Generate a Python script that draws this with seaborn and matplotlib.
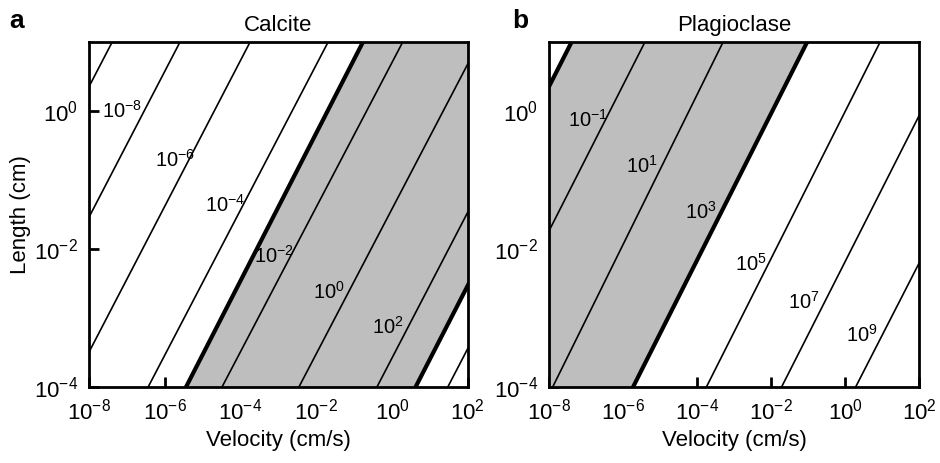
import numpy as np
import pandas as pd
import matplotlib
matplotlib.use("Agg")
import matplotlib.pyplot as plt
import seaborn as sns
from matplotlib.ticker import NullLocator

# contour lines: exponent of the number, log10 velocity where the line meets
# L = 1e-4 cm (bottom) and L = 1e1 cm (top)
calcite_levels = [-10, -8, -6, -4, -3, -2, 0, 2, 3, 4]
calcite_logv_bottom = [-12.12, -10.33, -8.48, -6.44, -5.44, -4.49, -2.46, -0.40, 0.62, 1.47]
calcite_logv_top = [-7.39, -5.60, -3.75, -1.69, -0.77, 0.28, 2.30, 4.33, 5.30, 6.20]
calcite_thick = [-3, 3]

plag_levels = [-3, -1, 1, 3, 5, 7, 9]
plag_logv_bottom = [-12.12, -10.14, -7.90, -5.73, -3.75, -1.72, 0.28]
plag_logv_top = [-7.39, -5.41, -3.30, -1.03, 0.94, 3.00, 5.05]
plag_thick = [-3, 3]

logL_ends = [-4, 1]

# inline labels
calcite_label_exp = [-8, -6, -4, -2, 0, 2]
calcite_label_logv = [-7.13, -5.73, -4.41, -3.12, -1.67, -0.11]
calcite_label_logL = [0.0, -0.71, -1.36, -2.10, -2.62, -3.13]

plag_label_exp = [-1, 1, 3, 5, 7, 9]
plag_label_logv = [-6.94, -5.49, -3.91, -2.56, -1.11, 0.44]
plag_label_logL = [-0.13, -0.80, -1.46, -2.22, -2.77, -3.25]

x_ticks = [1e-8, 1e-6, 1e-4, 1e-2, 1e0, 1e2]
y_ticks = [1e-4, 1e-2, 1e0]

sns.set_theme(style="white")
plt.rcParams['font.family'] = ['Liberation Sans', 'DejaVu Sans']
plt.rcParams['mathtext.fontset'] = 'custom'
plt.rcParams['mathtext.rm'] = 'Liberation Sans'
plt.rcParams['axes.unicode_minus'] = False
for key in ['text.color', 'axes.labelcolor', 'xtick.color', 'ytick.color']:
    plt.rcParams[key] = 'black'


def make_df(levels, bottom, top):
    rows = []
    for lev, b, t in zip(levels, bottom, top):
        rows.append({'level': lev, 'v': 10 ** b, 'L': 10 ** logL_ends[0]})
        rows.append({'level': lev, 'v': 10 ** t, 'L': 10 ** logL_ends[1]})
    return pd.DataFrame(rows)


def draw_panel(ax, levels, bottom, top, thick, lab_exp, lab_v, lab_L, title, letter, letter_x):
    df = make_df(levels, bottom, top)
    ax.set_xscale('log')
    ax.set_yscale('log')

    # shaded band between the two thick lines
    i0 = levels.index(thick[0])
    i1 = levels.index(thick[1])
    ax.fill_betweenx([10 ** logL_ends[0], 10 ** logL_ends[1]],
                     [10 ** bottom[i0], 10 ** top[i0]],
                     [10 ** bottom[i1], 10 ** top[i1]],
                     color='#bebebe', lw=0, zorder=1)

    thin_df = df[~df['level'].isin(thick)]
    thick_df = df[df['level'].isin(thick)]
    sns.lineplot(data=thin_df, x='v', y='L', units='level', estimator=None,
                 color='black', lw=1.2, ax=ax, zorder=2)
    sns.lineplot(data=thick_df, x='v', y='L', units='level', estimator=None,
                 color='black', lw=3, ax=ax, zorder=3)

    for e, lv, lL in zip(lab_exp, lab_v, lab_L):
        ax.text(10 ** lv, 10 ** lL, r'$\mathdefault{10^{%d}}$' % e,
                ha='center', va='center', fontsize=14.5, zorder=4)

    ax.set_xlim(1e-8, 1e2)
    ax.set_ylim(1e-4, 1e1)
    ax.set_xticks(x_ticks)
    ax.set_yticks(y_ticks)
    ax.xaxis.set_minor_locator(NullLocator())
    ax.yaxis.set_minor_locator(NullLocator())
    ax.tick_params(direction='in', length=7, width=2, labelsize=16, pad=8,
                   bottom=True, left=True)
    for s in ax.spines.values():
        s.set_linewidth(2)
        s.set_color('black')
    ax.set_xlabel('Velocity (cm/s)', fontsize=16, labelpad=4)
    ax.set_ylabel('')
    ax.set_title(title, fontsize=16, pad=8)
    ax.text(letter_x, 1.06, letter, transform=ax.transAxes, fontsize=19,
            fontweight='bold', va='center', ha='left')


fig = plt.figure(figsize=(9.4, 4.63), dpi=100)
ax1 = fig.add_axes([0.0947, 0.164, 0.403, 0.745])
ax2 = fig.add_axes([0.584, 0.164, 0.394, 0.745])

draw_panel(ax1, calcite_levels, calcite_logv_bottom, calcite_logv_top, calcite_thick,
           calcite_label_exp, calcite_label_logv, calcite_label_logL, 'Calcite', 'a', -0.21)
draw_panel(ax2, plag_levels, plag_logv_bottom, plag_logv_top, plag_thick,
           plag_label_exp, plag_label_logv, plag_label_logL, 'Plagioclase', 'b', -0.1)
ax1.set_ylabel('Length (cm)', fontsize=16, labelpad=2)

fig.savefig('out.png', dpi=100)
